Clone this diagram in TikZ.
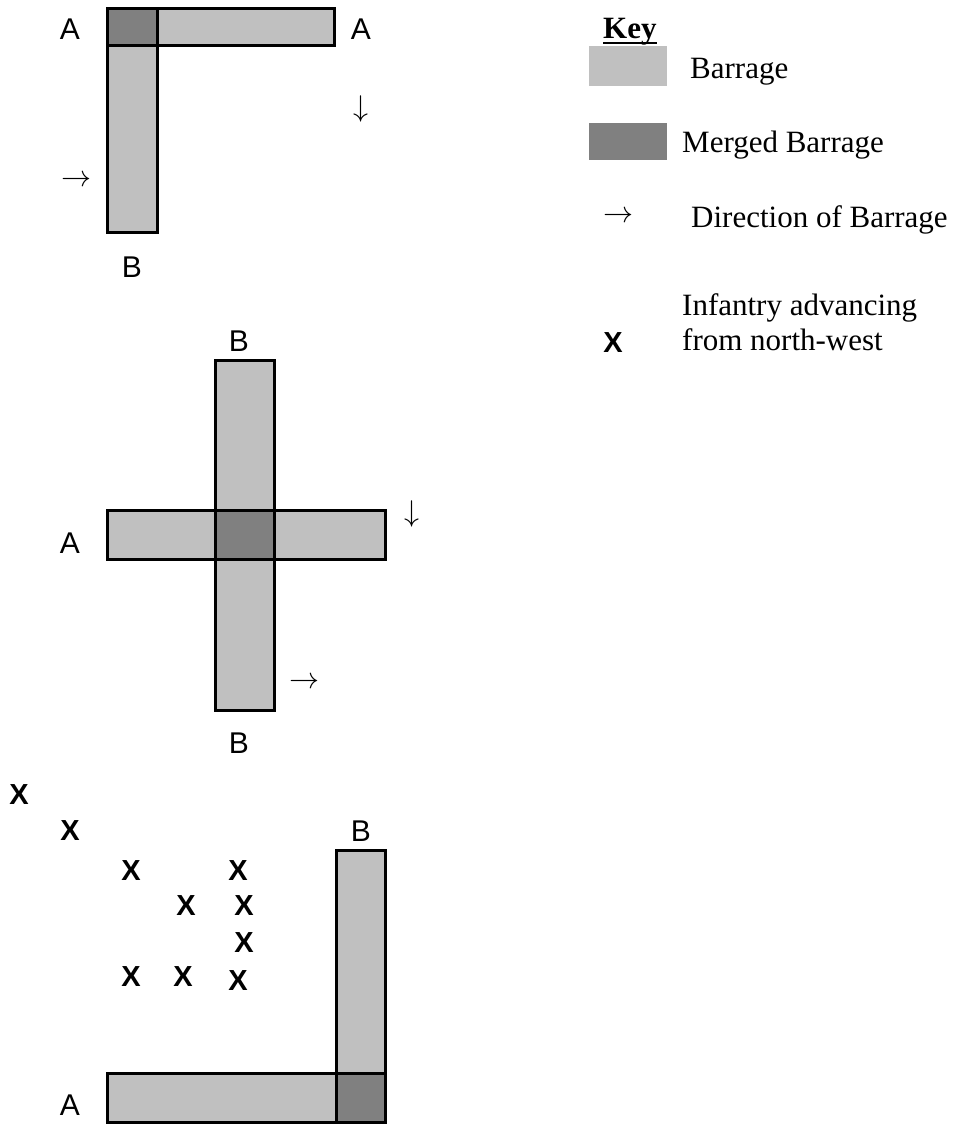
\RequirePackage{fix-cm}
\documentclass[tikz,border=0pt]{standalone}
\usepackage{fontspec}
\setmainfont{Liberation Serif}[BoldFont={Liberation Serif Bold}]
\setsansfont{Liberation Sans}[BoldFont={Liberation Sans Bold}]
\definecolor{barlight}{HTML}{C0C0C0}
\definecolor{bardark}{HTML}{808080}
\begin{document}
\begin{tikzpicture}[x=1pt,y=-1pt,
  bar/.style={fill=barlight,draw=black,line width=3pt},
  merged/.style={fill=bardark,draw=black,line width=3pt},
  lbl/.style={font=\fontsize{30}{36}\selectfont\sffamily,inner sep=0pt},
  inf/.style={font=\fontsize{29}{34}\selectfont\sffamily\bfseries,inner sep=0pt},
  dirarrow/.style={font=\fontsize{30}{36}\selectfont,inner sep=0pt},
  keytext/.style={font=\fontsize{31}{36}\selectfont,inner sep=0pt,anchor=base west}]
\useasboundingbox (0,0) rectangle (957,1124);

% ---- first layout: barrages meeting at the north-west corner ----
\draw[bar] (107.5,8.8) rectangle (157.2,232.8);
\draw[bar] (157.2,8.8) rectangle (334.5,45.8);
\draw[merged] (107.5,8.8) rectangle (157.2,45.8);
\node[lbl] (a1) at (70,29) {A};
\node[lbl] (a2) at (361,29) {A};
\node[lbl] (b1) at (132,267) {B};
\node[dirarrow] (d1) at (361,109) {$\downarrow$};
\node[dirarrow] (d2) at (76,181) {$\rightarrow$};

% ---- second layout: barrages crossing ----
\draw[bar] (215.5,360.5) rectangle (274.5,710.5);
\draw[bar] (107.5,510.5) rectangle (385.5,559.5);
\draw[merged] (215.5,510.5) rectangle (274.5,559.5);
\node[lbl] (b2) at (239,341) {B};
\node[lbl] (a3) at (70,543) {A};
\node[lbl] (b3) at (239,743) {B};
\node[dirarrow] (d3) at (412,514) {$\downarrow$};
\node[dirarrow] (d4) at (304,683) {$\rightarrow$};

% ---- third layout: barrages meeting at the south-east corner ----
\draw[bar] (336.5,850.5) rectangle (385.5,1122.5);
\draw[bar] (107.5,1073.5) rectangle (336.5,1122.5);
\draw[merged] (336.5,1073.5) rectangle (385.5,1122.5);
\node[lbl] (b4) at (361,831) {B};
\node[lbl] (a4) at (70,1105) {A};

% infantry positions
\node[inf] (x1) at (19,795) {X};
\node[inf] (x2) at (70,831) {X};
\node[inf] (x3) at (131,871) {X};
\node[inf] (x4) at (238,871) {X};
\node[inf] (x5) at (186,906) {X};
\node[inf] (x6) at (244,906) {X};
\node[inf] (x7) at (244,943) {X};
\node[inf] (x8) at (131,977) {X};
\node[inf] (x9) at (183,977) {X};
\node[inf] (x10) at (238,981) {X};

% ---- key ----
\node[keytext,font=\fontsize{31}{36}\selectfont\bfseries] (key) at (603,39) {Key};
\draw[line width=2pt] ([yshift=-4pt]key.base west) -- ([yshift=-4pt]key.base east);
\fill[barlight] (589,46) rectangle (667,86);
\node[keytext] (k1) at (690,78) {Barrage};
\fill[bardark] (589,123) rectangle (667,160);
\node[keytext] (k2) at (682,152) {Merged Barrage};
\node[dirarrow] (k3a) at (618,217) {$\rightarrow$};
\node[keytext] (k3) at (691,227) {Direction of Barrage};
\node[keytext] (k4) at (682,315) {Infantry advancing};
\node[keytext] (k5) at (682,350) {from north-west};
\node[inf] (k4x) at (613,343) {X};
\end{tikzpicture}
\end{document}
